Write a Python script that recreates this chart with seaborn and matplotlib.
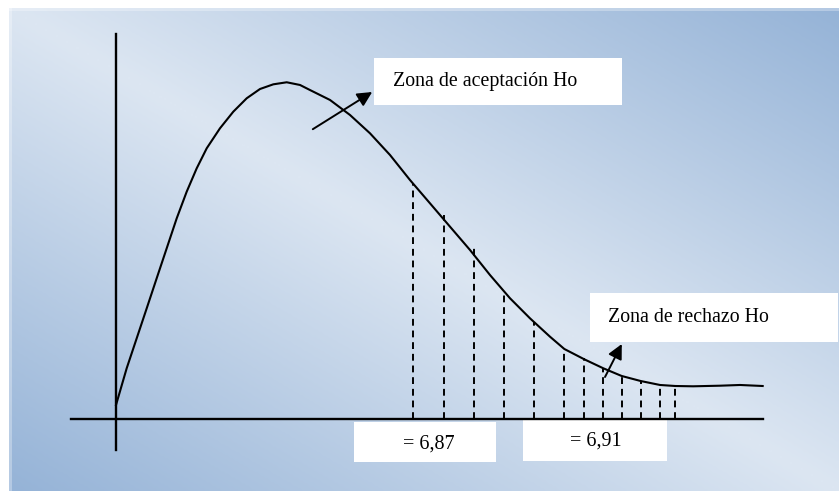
import numpy as np
import pandas as pd
import matplotlib
matplotlib.use("Agg")
import matplotlib.pyplot as plt
from matplotlib.patches import Rectangle
from matplotlib.colors import LinearSegmentedColormap
import seaborn as sns

# ---- data (diagram units, origin at the axes crossing) ----
curve_x = [0.000, 0.178, 0.345, 0.512, 0.678, 0.845, 1.012, 1.178, 1.345, 1.512,
           1.733, 1.955, 2.178, 2.400, 2.622, 2.845, 3.067, 3.233, 3.567, 3.900,
           4.233, 4.567, 4.900, 5.233, 5.567, 5.900, 6.233, 6.567, 6.900, 7.233,
           7.472, 7.805, 8.122, 8.428, 8.745, 9.067, 9.322, 9.617, 10.067, 10.400,
           10.778]
curve_y = [0.233, 0.845, 1.345, 1.845, 2.345, 2.845, 3.345, 3.788, 4.178, 4.512,
           4.845, 5.122, 5.345, 5.500, 5.578, 5.612, 5.567, 5.483, 5.317, 5.067,
           4.762, 4.400, 3.983, 3.595, 3.205, 2.817, 2.400, 2.012, 1.678, 1.372,
           1.167, 0.995, 0.845, 0.717, 0.633, 0.567, 0.550, 0.545, 0.555, 0.567,
           0.550]
dash_x = [4.950, 5.467, 5.967, 6.467, 6.972, 7.472, 7.805, 8.122, 8.428, 8.745, 9.067, 9.322]
dash_top = [3.93, 3.40, 2.90, 2.12, 1.62, 1.12, 1.02, 0.85, 0.72, 0.63, 0.57, 0.57]
label_accept = "Zona de aceptación Ho"
label_reject = "Zona de rechazo Ho"
value_labels = ["= 6,87", "= 6,91"]

df = pd.DataFrame({"x": curve_x, "y": curve_y})

W, H = 839, 491
fig = plt.figure(figsize=(W / 100, H / 100), dpi=100)
fig.patch.set_facecolor("white")

# ---- gradient background ----
bg = fig.add_axes([9 / W, 0, (W - 9) / W, (H - 8) / H])
bg.set_axis_off()
nx, ny = 400, 240
xn = np.linspace(0, 1, nx)[None, :]
yn = np.linspace(0, 1, ny)[:, None]
t = np.abs(xn - yn)
cmap = LinearSegmentedColormap.from_list("bg", ["#dce6f2", "#95b3d7"])
bg.imshow(t, cmap=cmap, aspect="auto", extent=(0, 1, 1, 0), vmin=0, vmax=1,
          interpolation="bilinear")
bg.set_xlim(0, 1)
bg.set_ylim(1, 0)
bg.add_patch(Rectangle((0, 0), 1, 3 / 483, color="white", alpha=0.3, lw=0))
bg.add_patch(Rectangle((0, 0), 3 / 830, 1, color="white", alpha=0.3, lw=0))

# ---- main diagram ----
ax = fig.add_axes([0, 0, 1, 1])
ax.patch.set_alpha(0)
ax.set_axis_off()
ax.set_xlim(-116 / 60, (W - 116) / 60)
ax.set_ylim((419 - H) / 60, 419 / 60)

# white boxes
boxes = [((4.30, 5.23), 4.13, 0.79), ((7.90, 1.28), 4.13, 0.82),
         ((3.97, -0.72), 2.36, 0.67), ((6.78, -0.70), 2.40, 0.70)]
for (bx, by), bw, bh in boxes:
    ax.add_patch(Rectangle((bx, by), bw, bh, facecolor="white", edgecolor="none", zorder=1))

# axes lines
sns.lineplot(x=[0, 0], y=[-0.52, 6.42], ax=ax, color="black", lw=1.7, zorder=3,
             estimator=None, sort=False)
sns.lineplot(x=[-0.75, 10.78], y=[0, 0], ax=ax, color="black", lw=1.7, zorder=3,
             estimator=None, sort=False)

# curve
sns.lineplot(data=df, x="x", y="y", ax=ax, color="black", lw=1.5, sort=False,
             estimator=None, zorder=3)

# dashed verticals
ax.vlines(dash_x, 0, dash_top, colors="black", linestyles=(0, (3.5, 2.5)), lw=1.4, zorder=2)

# arrows
ax.annotate("", xy=(4.27, 5.45), xytext=(3.28, 4.83),
            arrowprops=dict(arrowstyle="-|>", color="black", lw=1.4, mutation_scale=22,
                            shrinkA=0, shrinkB=0), zorder=4)
ax.annotate("", xy=(8.43, 1.25), xytext=(8.15, 0.70),
            arrowprops=dict(arrowstyle="-|>", color="black", lw=1.4, mutation_scale=22,
                            shrinkA=0, shrinkB=0), zorder=4)

serif = ["Liberation Serif", "DejaVu Serif"]
ax.text(4.62, 5.63, label_accept, fontsize=14.3, family=serif, va="center", ha="left", zorder=5)
ax.text(8.20, 1.70, label_reject, fontsize=14.3, family=serif, va="center", ha="left", zorder=5)
ax.text(4.78, -0.42, value_labels[0], fontsize=14.5, family=serif, va="center", ha="left", zorder=5)
ax.text(7.57, -0.37, value_labels[1], fontsize=14.5, family=serif, va="center", ha="left", zorder=5)

fig.savefig("out.png", dpi=100)
